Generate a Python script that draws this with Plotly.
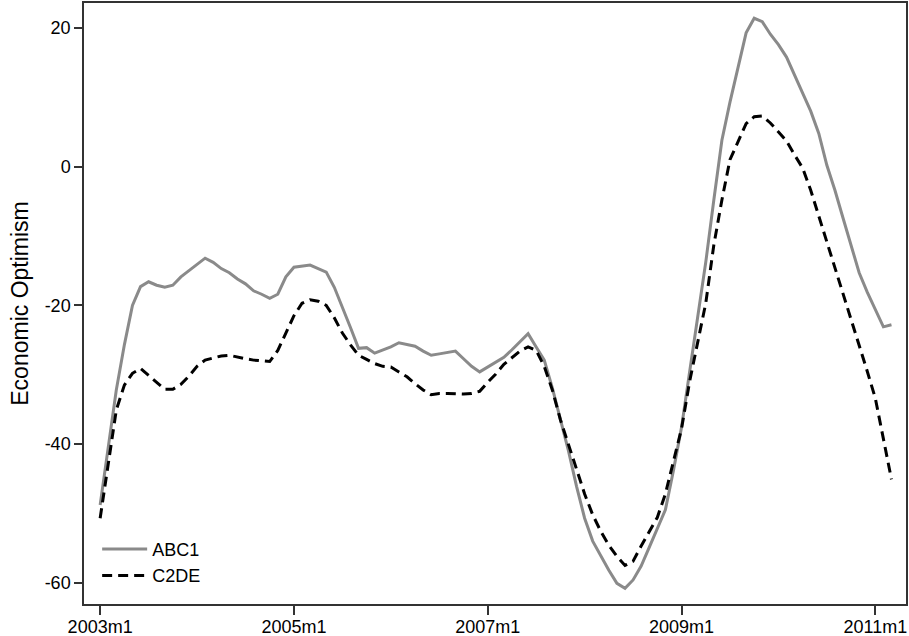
import plotly.graph_objects as go

# Month labels 2003m1 .. 2011m3
months = [f"{y}m{m}" for y in range(2003, 2012) for m in range(1, 13)][:99]

abc1 = [-48.8, -40.4, -32.2, -25.7, -20.0, -17.3, -16.6, -17.1, -17.4, -17.1,
        -15.9, -15.0, -14.1, -13.2, -13.8, -14.7, -15.3, -16.2, -16.9, -17.9,
        -18.4, -19.0, -18.4, -15.9, -14.5, -14.3, -14.2, -14.7, -15.2, -17.4,
        -20.2, -23.2, -26.2, -26.1, -26.9, -26.5, -26.0, -25.4, -25.7, -25.9,
        -26.6, -27.2, -27.0, -26.8, -26.6, -27.7, -28.8, -29.6, -28.9, -28.2,
        -27.5, -26.4, -25.2, -24.1, -26.0, -27.9, -31.9, -36.4, -41.0, -46.1,
        -50.7, -54.0, -56.2, -58.2, -60.1, -60.8, -59.6, -57.6, -54.9, -52.1,
        -49.5, -43.8, -37.6, -29.6, -21.8, -13.8, -4.8, 3.8, 9.3, 14.4,
        19.3, 21.4, 20.9, 19.1, 17.6, 15.8, 13.1, 10.6, 8.0, 4.8,
        0.2, -3.4, -7.4, -11.4, -15.3, -18.1, -20.7, -23.1, -22.8]

c2de = [-50.7, -43.0, -35.1, -31.5, -29.8, -29.1, -30.1, -31.1, -32.1, -32.1,
        -31.4, -30.2, -28.8, -27.9, -27.6, -27.3, -27.2, -27.5, -27.7, -27.9,
        -28.0, -28.1, -26.5, -24.0, -21.5, -19.7, -19.2, -19.4, -20.0, -21.8,
        -24.0, -25.7, -27.2, -27.8, -28.4, -28.8, -28.9, -29.6, -30.3, -31.3,
        -32.2, -32.9, -32.7, -32.7, -32.8, -32.8, -32.7, -32.4, -31.1, -29.9,
        -28.5, -27.5, -26.6, -26.0, -26.5, -28.8, -32.2, -36.5, -40.1, -43.8,
        -47.2, -50.2, -52.6, -54.6, -56.2, -57.5, -56.9, -54.7, -52.6, -50.6,
        -47.2, -42.6, -37.8, -31.0, -25.3, -19.7, -11.3, -4.8, 1.0, 3.7,
        6.2, 7.2, 7.3, 6.3, 5.0, 3.7, 1.7, -0.2, -3.4, -7.1,
        -11.0, -14.8, -18.2, -22.0, -25.7, -29.5, -33.4, -39.0, -45.1]

x_ticks = ["2003m1", "2005m1", "2007m1", "2009m1", "2011m1"]
y_ticks = [-60, -40, -20, 0, 20]

FONT = "Liberation Sans, Arial, Helvetica, sans-serif"
AXC = "#333333"

fig = go.Figure()
fig.add_trace(go.Scatter(x=months, y=abc1, mode="lines", name="ABC1",
                         legendgroup="a",
                         line=dict(color="#8a8a8a", width=3)))
fig.add_trace(go.Scatter(x=months, y=c2de, mode="lines", name="C2DE",
                         legendgroup="b",
                         line=dict(color="black", width=3, dash="10px,6px")))

fig.update_layout(
    width=909, height=636,
    margin=dict(l=84, r=3, t=3, b=32, autoexpand=False),
    paper_bgcolor="white", plot_bgcolor="white",
    font=dict(family=FONT, size=18, color="black"),
    showlegend=True,
    legend=dict(x=0.016, y=0.017, xanchor="left", yanchor="bottom",
                bgcolor="rgba(0,0,0,0)", font=dict(size=18),
                itemwidth=45, tracegroupgap=0),
    xaxis=dict(type="category", range=[-2, 99.8], automargin=False,
               tickmode="array", tickvals=x_ticks, ticktext=x_ticks,
               showgrid=False, zeroline=False,
               showline=True, linecolor=AXC, linewidth=1.5, mirror=True,
               ticks="outside", ticklen=9, tickwidth=1.5, tickcolor=AXC,
               ticklabelstandoff=-3,
               tickfont=dict(size=18)),
    yaxis=dict(range=[-63.07, 23.6], automargin=False,
               tickmode="array", tickvals=y_ticks,
               ticktext=[str(v) for v in y_ticks],
               showgrid=False, zeroline=False,
               showline=True, linecolor=AXC, linewidth=1.5, mirror=True,
               ticks="outside", ticklen=8, tickwidth=1.5, tickcolor=AXC,
               tickfont=dict(size=18),
               title=dict(text="Economic Optimism", font=dict(size=23),
                          standoff=10)),
)

fig.write_html("out.html",
               config={"displayModeBar": False},
               post_script="document.body.style.margin='0px';"
                           "document.body.style.overflow='hidden';")
